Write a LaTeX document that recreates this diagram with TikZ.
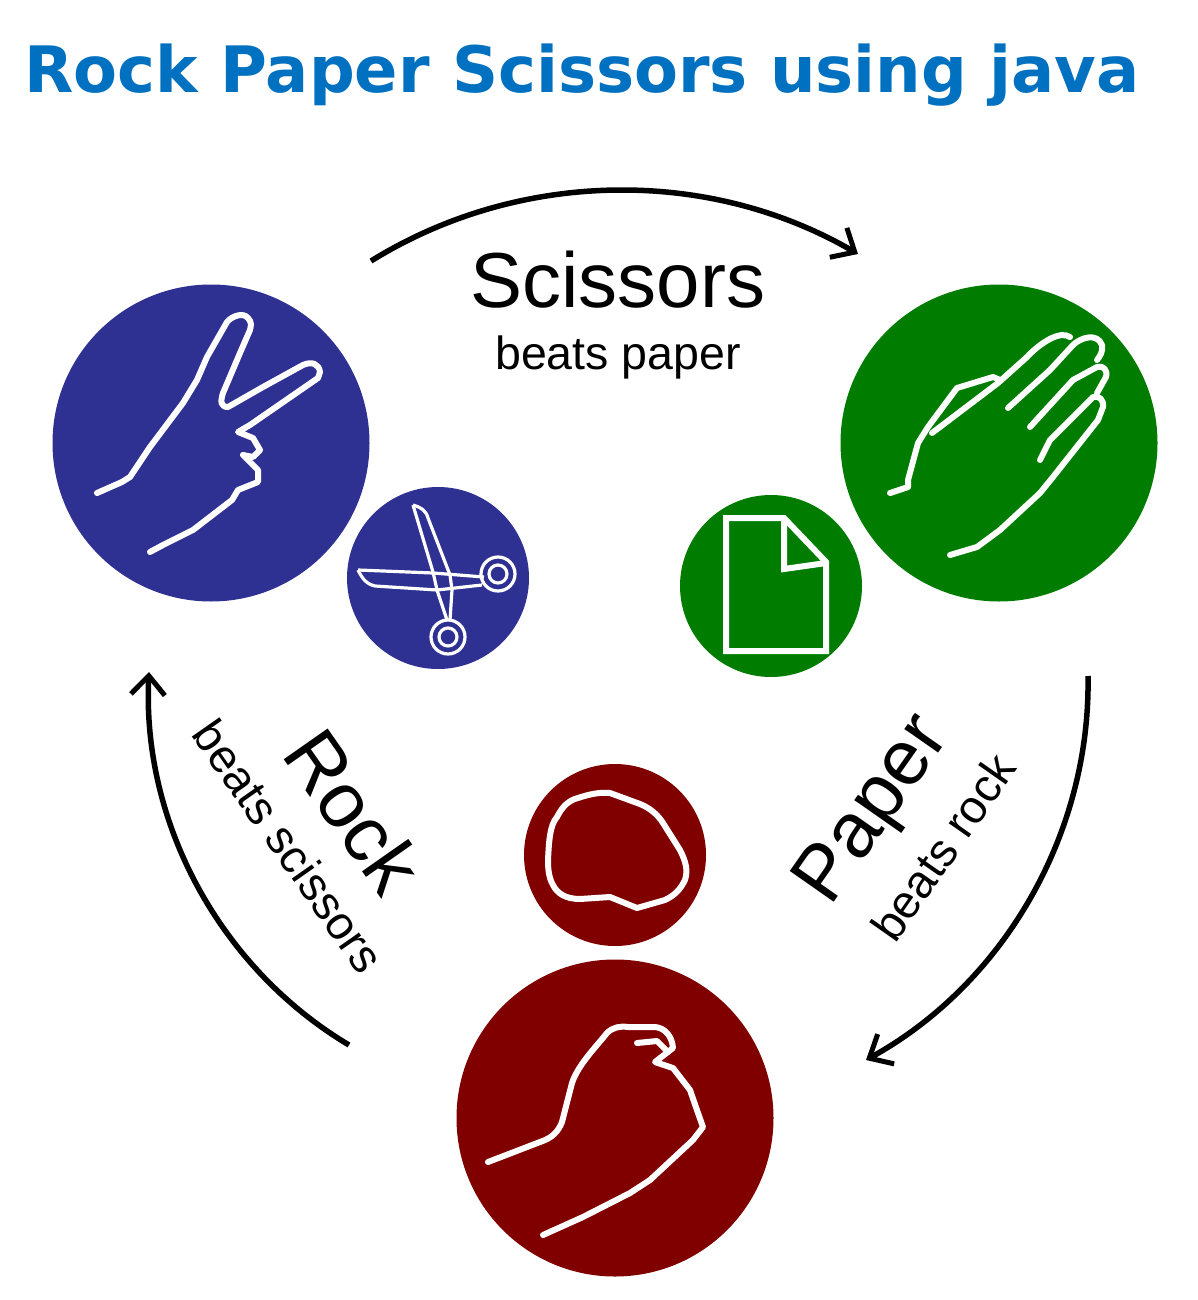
\documentclass[tikz,border=0pt]{standalone}
\usepackage{fontspec}
\setmainfont{Liberation Sans}
\newfontfamily\titlefont{DejaVu Sans}
\usetikzlibrary{arrows.meta}
\definecolor{cblue}{RGB}{46,49,146}
\definecolor{cgreen}{RGB}{0,125,0}
\definecolor{cred}{RGB}{128,0,0}
\definecolor{ctitle}{RGB}{0,112,192}
\tikzset{
  disc/.style={circle,inner sep=0pt,minimum size=#1},
  ink/.style={draw=white,line width=6pt,line join=round,line cap=round},
  thin ink/.style={draw=white,line width=3.2pt,line join=round},
  cyc/.style={draw=black,line width=5.5pt,-{Straight Barb[length=19pt,width=34pt,line width=5pt]}},
  big/.style={font=\fontsize{78}{78}\selectfont,inner sep=0pt},
  small/.style={font=\fontsize{46.5}{46.5}\selectfont,inner sep=0pt},
}
\begin{document}
\begin{tikzpicture}[x=1pt,y=-1pt]
\useasboundingbox (0,0) rectangle (1197,1300);
\node[inner sep=0pt,text=ctitle,font=\titlefont\bfseries\fontsize{64}{64}\selectfont] (title) at (582,75) {Rock Paper Scissors using java};
% discs
\node[disc=317pt,fill=cblue] (hs) at (211,443) {};
\node[disc=317pt,fill=cgreen] (hp) at (999,443) {};
\node[disc=317pt,fill=cred] (hr) at (615,1118) {};
\node[disc=182pt,fill=cblue] (is) at (438,578) {};
\node[disc=182pt,fill=cgreen] (ip) at (771,586) {};
\node[disc=182pt,fill=cred] (ir) at (615,855) {};
% labels
\node[big] (t1) at (618,280) {Scissors};
\node[small] (t2) at (618,357) {beats paper};
\node[big,rotate=-55] (t3) at (354,811) {Rock};
\node[small,rotate=-55] (t4) at (289,846) {beats scissors};
\node[big,rotate=55] (t5) at (875,811) {Paper};
\node[small,rotate=55] (t6) at (943,847) {beats rock};
% arrows
\coordinate (a1) at (371,261); \coordinate (a2) at (858,254);
\coordinate (b1) at (1088,676); \coordinate (b2) at (866,1060);
\coordinate (c1) at (349,1045); \coordinate (c2) at (149,672);
\draw[cyc] (a1) to[bend left=31,looseness=.91] (a2);
\draw[cyc] (b1) to[bend left=31,looseness=.91] (b2);
\draw[cyc] (c1) to[bend left=31,looseness=.91] (c2);
% scissors hand
\draw[ink] (97,493) -- (122,482) -- (130,477) -- (150,447) -- (183,403) -- (197,380) -- (207,357) -- (227,322) .. controls (232,316) and (243,312) .. (248,318) .. controls (252,322) and (251,326) .. (250,330) -- (240,353) -- (223,393) .. controls (220,402) and (221,407) .. (228,407) -- (263,387) -- (303,365) .. controls (312,361) and (319,364) .. (320,372) -- (318,378) -- (250,425) -- (238,432) -- (253,438) -- (260,450) -- (253,457) -- (243,455) -- (258,470) -- (258,482) -- (238,490) -- (232,500) -- (193,530) -- (163,545) -- (150,552);
% paper hand
\draw[ink] (890,493) -- (908,487) -- (908,480) -- (918,443) -- (928,427) -- (957,388) -- (993,377) -- (1000,380);
\draw[ink] (932,433) -- (998,383) -- (1027,357) .. controls (1040,343) and (1060,330) .. (1070,337);
\draw[ink] (1008,408) -- (1050,370) -- (1073,345) .. controls (1080,338) and (1097,332) .. (1102,345) .. controls (1103,352) and (1100,356) .. (1097,360);
\draw[ink] (1030,427) -- (1073,380) -- (1097,367) .. controls (1103,365) and (1108,370) .. (1106,377) -- (1097,393);
\draw[ink] (1040,460) -- (1050,440) -- (1093,397) .. controls (1099,395) and (1104,400) .. (1103,407) -- (1098,420) -- (1053,477) -- (1040,493) -- (1000,530) -- (977,547) -- (950,555);
% rock hand
\draw[ink] (488,1162) -- (540,1142) .. controls (552,1138) and (558,1132) .. (562,1122) -- (572,1083) .. controls (578,1065) and (595,1048) .. (607,1033) .. controls (613,1027) and (620,1026) .. (628,1027) -- (655,1027) .. controls (665,1028) and (672,1036) .. (673,1048) -- (655,1062) -- (673,1068) -- (690,1090) -- (698,1113) -- (703,1127) -- (693,1140) -- (650,1180) -- (630,1193) -- (583,1217) -- (543,1235);
\draw[ink] (637,1043) -- (657,1041) -- (668,1052);
% small rock
\draw[ink] (548,860) .. controls (549,840) and (550,825) .. (557,817) .. controls (563,805) and (570,800) .. (578,798) .. controls (590,794) and (600,792) .. (610,793) -- (640,804) .. controls (650,808) and (658,815) .. (663,823) -- (680,850) .. controls (686,862) and (688,870) .. (685,880) .. controls (680,890) and (675,895) .. (665,900) -- (637,908) -- (610,897) -- (580,899) .. controls (565,899) and (557,893) .. (553,885) .. controls (549,878) and (548,870) .. (548,860) -- cycle;
% paper icon
\draw[ink,line cap=butt,line join=miter] (726,518) -- (784,518) -- (826,562) -- (826,651) -- (726,651) -- cycle;
\draw[ink,line cap=butt,line join=miter] (784,518) -- (784,569) -- (826,563);
% scissors icon
\draw[thin ink] (498,574) circle (17);
\draw[thin ink] (498,574) circle (9);
\draw[thin ink] (448,637) circle (17);
\draw[thin ink] (448,637) circle (9);
\draw[thin ink] (413,505) .. controls (420,507) and (426,510) .. (428,518) -- (450,575) -- (452,590) -- (450,620);
\draw[thin ink] (413,505) -- (433,572) -- (437,590) -- (447,620);
\draw[thin ink] (358,570) -- (433,573) -- (484,577);
\draw[thin ink] (358,570) .. controls (362,578) and (366,584) .. (375,586) -- (437,590) -- (482,585);
\end{tikzpicture}
\end{document}
